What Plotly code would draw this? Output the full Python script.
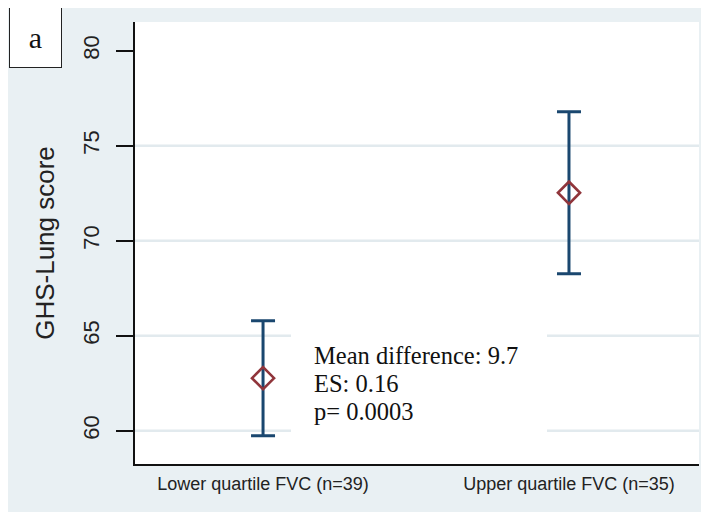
import plotly.graph_objects as go

# ---- data ----
groups = ["Lower quartile FVC (n=39)", "Upper quartile FVC (n=35)"]
means = [62.77, 72.53]
ci_low = [59.74, 68.27]
ci_high = [65.79, 76.79]
y_ticks = [60, 65, 70, 75, 80]
grid_values = [60, 65, 70, 75]
stats_lines = ["Mean difference: 9.7", "ES: 0.16", "p= 0.0003"]
panel_label = "a"
y_title = "GHS-Lung score"

BG = "#e9f0f3"
GRID = "#e2eaee"
NAVY = "#1a476f"
CRAN = "#90353b"

err_plus = [h - m for h, m in zip(ci_high, means)]
err_minus = [m - l for m, l in zip(means, ci_low)]

fig = go.Figure()
fig.add_trace(go.Scatter(
    x=groups, y=means, mode="markers",
    marker=dict(symbol="diamond-open", size=17, color=CRAN,
                line=dict(color=CRAN, width=2.6)),
    error_y=dict(type="data", symmetric=False, array=err_plus, arrayminus=err_minus,
                 color=NAVY, thickness=3, width=12),
    showlegend=False, hoverinfo="skip",
))

shapes = []
for g in grid_values:
    shapes.append(dict(type="line", xref="paper", yref="y", x0=0, x1=1, y0=g, y1=g,
                       line=dict(color=GRID, width=2.5), layer="below"))
# white box behind the statistics text
shapes.append(dict(type="rect", xref="paper", yref="paper", x0=0.2766, x1=0.7305,
                   y0=0.043, y1=0.3145, fillcolor="white", line=dict(width=0), layer="below"))

annotations = []
ys = [0.2466, 0.182, 0.1199]
for t, yy in zip(stats_lines, ys):
    annotations.append(dict(text=t, xref="paper", yref="paper", x=0.3138, y=yy,
                            xanchor="left", yanchor="middle", showarrow=False,
                            font=dict(family="Liberation Serif", size=24.5, color="#111111")))
annotations.append(dict(text=panel_label, xref="paper", yref="paper", x=-0.1764, y=0.966,
                        xanchor="center", yanchor="middle", showarrow=False,
                        width=51, height=60, borderpad=0, borderwidth=1,
                        bordercolor="#222222", bgcolor="white",
                        font=dict(family="Liberation Serif", size=30, color="#111111")))

fig.update_layout(
    width=701, height=504,
    margin=dict(l=127, r=10, t=14, b=48),
    paper_bgcolor=BG, plot_bgcolor="white",
    shapes=shapes, annotations=annotations,
    xaxis=dict(type="category", range=[-0.4185, 1.425], showgrid=False, zeroline=False,
               showline=True, linecolor="#111111", linewidth=2, ticks="",
               tickfont=dict(family="Liberation Sans", size=18, color="#222222"),
               ticklabelstandoff=2),
    yaxis=dict(range=[58.25, 81.52], tickvals=y_ticks, showgrid=False, zeroline=False,
               showline=True, linecolor="#111111", linewidth=2,
               ticks="outside", ticklen=17, tickwidth=2, tickcolor="#111111",
               tickangle=-90,
               tickfont=dict(family="Liberation Sans", size=22, color="#222222"),
               ticklabelstandoff=8,
               title=dict(text=y_title, standoff=17,
                          font=dict(family="Liberation Sans", size=26, color="#222222"))),
)

fig.write_html("out.html")
